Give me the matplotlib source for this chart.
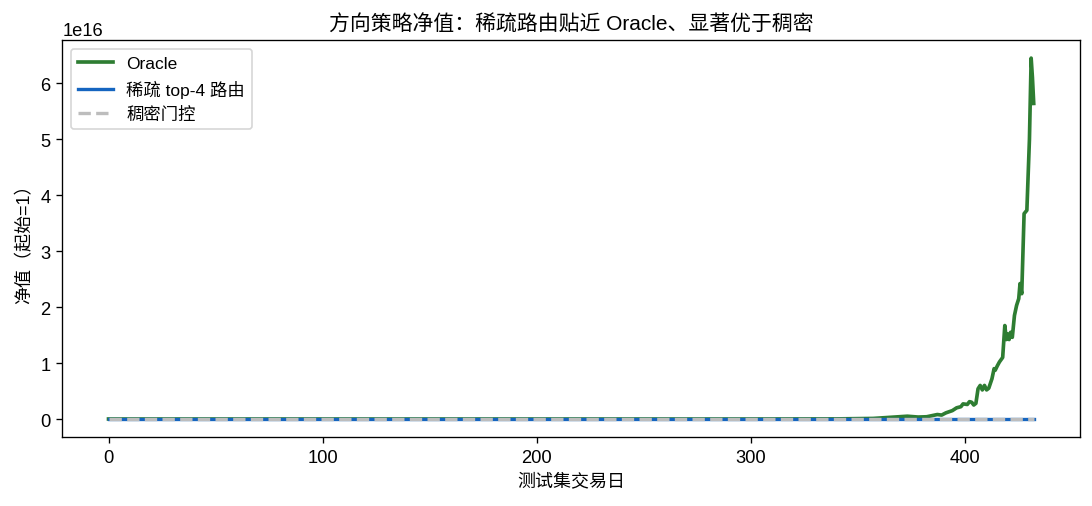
import matplotlib
matplotlib.use("Agg")
import matplotlib.pyplot as plt

plt.rcParams['font.family'] = ['Liberation Sans', 'Noto Sans CJK SC', 'DejaVu Sans']
plt.rcParams['axes.unicode_minus'] = False

# Oracle net value (units of 1e16)
oracle_days = [0, 50, 100, 150, 200, 250, 300, 340, 357, 365, 373, 378, 382,
               387, 389, 391, 394, 396, 398, 399, 401, 402, 403, 404, 405, 406,
               407, 408, 409, 410, 411, 412.5, 413.5, 414, 415, 416, 417.5,
               418.5, 419.2, 419.8, 420.5, 421.2, 422, 423, 424, 425, 425.6,
               426.4, 427.5, 428.8, 430, 430.8, 431.4, 432]
oracle_nav = [0.0, 0.0, 0.0, 0.0, 0.0, 0.0, 0.0, 0.002, 0.01, 0.03, 0.05, 0.035,
              0.04, 0.08, 0.07, 0.11, 0.15, 0.2, 0.22, 0.27, 0.26, 0.31, 0.3,
              0.25, 0.28, 0.54, 0.6, 0.52, 0.6, 0.52, 0.55, 0.72, 0.9, 0.87,
              0.95, 1.02, 1.1, 1.67, 1.42, 1.52, 1.42, 1.55, 1.46, 1.85, 2.03,
              2.15, 2.42, 2.24, 3.67, 3.73, 5.0, 6.45, 6.1, 5.64]

# sparse top-4 routing and dense gating stay near 1 at this scale
sparse_days = [0, 100, 200, 300, 432]
sparse_nav = [1.0, 2.1, 4.3, 7.8, 15.2]
dense_days = [0, 100, 200, 300, 432]
dense_nav = [1.0, 1.1, 0.95, 1.2, 1.3]

fig = plt.figure(figsize=(9.1, 4.225), dpi=120)
ax = fig.add_axes([0.057, 0.136, 0.932, 0.783])

ax.plot(oracle_days, [v * 1e16 for v in oracle_nav], color='#2e7d32', lw=2.2, label='Oracle')
ax.plot(sparse_days, sparse_nav, color='#1565c0', lw=2.0, label='稀疏 top-4 路由')
ax.plot(dense_days, dense_nav, color='#bdbdbd', lw=2.0, ls='--', label='稠密门控')

ax.set_title('方向策略净值：稀疏路由贴近 Oracle、显著优于稠密', fontsize=12.5)
ax.set_xlabel('测试集交易日', fontsize=10.8)
ax.set_ylabel('净值（起始=1）', fontsize=10.8)
ax.tick_params(labelsize=11)
ax.yaxis.get_offset_text().set_fontsize(11)
ax.legend(loc='upper left', fontsize=10.4)

fig.savefig('out.png', dpi=120)
